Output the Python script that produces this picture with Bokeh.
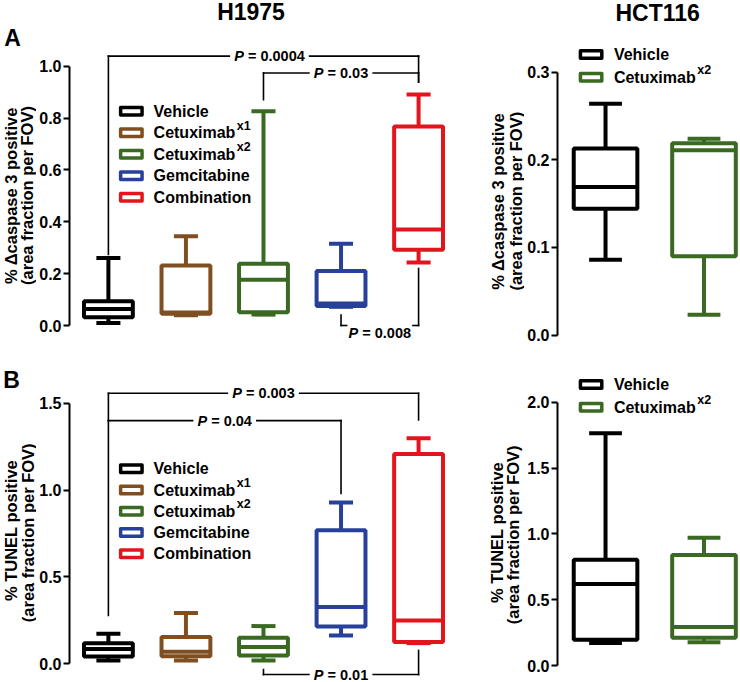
from bokeh.plotting import figure
from bokeh.models import Range1d, FixedTicker, PrintfTickFormatter, Label, ColumnDataSource
from bokeh.layouts import column, row
from bokeh.embed import file_html
from bokeh.resources import INLINE

FONT = "Liberation Sans"

# ---------------- data ----------------
h1975_labels = ["Vehicle", "Cetuximab", "Cetuximab", "Gemcitabine", "Combination"]
h1975_sups = ["", "x1", "x2", "", ""]
h1975_colors = ["#000000", "#7f4f22", "#3a6a22", "#27419b", "#e2141c"]
hct116_labels = ["Vehicle", "Cetuximab"]
hct116_sups = ["", "x2"]
hct116_colors = ["#000000", "#3a6a22"]

# cleaved caspase 3, H1975
casp_h_min = [0.010, 0.040, 0.042, 0.072, 0.243]
casp_h_q1 = [0.032, 0.045, 0.051, 0.075, 0.292]
casp_h_med = [0.064, 0.050, 0.176, 0.085, 0.370]
casp_h_q3 = [0.094, 0.231, 0.238, 0.210, 0.767]
casp_h_max = [0.260, 0.344, 0.826, 0.315, 0.891]
# cleaved caspase 3, HCT116
casp_c_min = [0.086, 0.023]
casp_c_q1 = [0.144, 0.090]
casp_c_med = [0.169, 0.211]
casp_c_q3 = [0.213, 0.219]
casp_c_max = [0.264, 0.224]
# TUNEL, H1975
tunel_h_min = [0.019, 0.019, 0.019, 0.163, 0.119]
tunel_h_q1 = [0.042, 0.044, 0.048, 0.215, 0.125]
tunel_h_med = [0.085, 0.070, 0.096, 0.327, 0.250]
tunel_h_q3 = [0.119, 0.154, 0.150, 0.769, 1.208]
tunel_h_max = [0.173, 0.292, 0.217, 0.929, 1.298]
# TUNEL, HCT116
tunel_c_min = [0.170, 0.177]
tunel_c_q1 = [0.195, 0.210]
tunel_c_med = [0.620, 0.292]
tunel_c_q3 = [0.803, 0.840]
tunel_c_max = [1.765, 0.970]

# significance brackets (groups numbered 1..5)
casp_br_left = [1, 3, 4]
casp_br_right = [5, 5, 5]
casp_br_y = [1.039, 0.974, 0.000]
casp_br_left_end = [0.274, 0.871, 0.040]
casp_br_right_end = [0.938, 0.938, 0.220]
casp_br_p = ["0.0004", "0.03", "0.008"]
tunel_br_left = [1, 1, 3]
tunel_br_right = [5, 4, 5]
tunel_br_y = [1.558, 1.400, -0.062]
tunel_br_left_end = [0.279, 1.400, -0.033]
tunel_br_right_end = [1.404, 0.980, 0.077]
tunel_br_p = ["0.003", "0.04", "0.01"]

casp_h_ticks = [0.0, 0.2, 0.4, 0.6, 0.8, 1.0]
casp_c_ticks = [0.0, 0.1, 0.2, 0.3]
tunel_h_ticks = [0.0, 0.5, 1.0, 1.5]
tunel_c_ticks = [0.0, 0.5, 1.0, 1.5, 2.0]

# ---------------- helpers ----------------
CW = {'P': .667, ' ': .278, '=': .584, '.': .278, 'C': .722, 'e': .556, 't': .333,
      'u': .611, 'x': .556, 'i': .278, 'm': .889, 'a': .556, 'b': .611}


def tw(s, fs):
    return sum(CW.get(c, 0.556) for c in s) * fs


def make_panel(fig_x, fig_y, fig_w, fig_h, axis_x, x1_px, step_px, y0_px, unit_px, ticks):
    xr = Range1d(1 + (axis_x - x1_px) / step_px, 1 + (fig_x + fig_w - x1_px) / step_px)
    yr = Range1d((y0_px - (fig_y + fig_h)) / unit_px, (y0_px - fig_y) / unit_px)
    p = figure(width=fig_w, height=fig_h, x_range=xr, y_range=yr, output_backend="svg",
               toolbar_location=None, tools="", x_axis_location=None,
               min_border_left=axis_x - fig_x, min_border_right=0,
               min_border_top=0, min_border_bottom=0)
    p.grid.visible = False
    p.outline_line_color = None
    ax = p.yaxis[0]
    ax.ticker = FixedTicker(ticks=ticks)
    ax.formatter = PrintfTickFormatter(format="%.1f")
    ax.bounds = (ticks[0], ticks[-1])
    ax.axis_line_width = 2
    ax.axis_line_color = "black"
    ax.major_tick_line_width = 2
    ax.major_tick_out = 6
    ax.major_tick_in = 0
    ax.minor_tick_out = 0
    ax.minor_tick_in = 0
    ax.major_label_text_font = FONT
    ax.major_label_text_font_size = "16px"
    ax.major_label_text_font_style = "bold"
    ax.major_label_text_color = "black"
    ax.major_label_standoff = 2
    fx = lambda px: 1 + (px - x1_px) / step_px
    fy = lambda py: (y0_px - py) / unit_px
    return p, fx, fy, step_px, unit_px


def make_text_strip(fig_x, fig_y, fig_w, fig_h):
    p = figure(width=fig_w, height=fig_h, x_range=Range1d(0, fig_w), y_range=Range1d(0, fig_h),
               output_backend="svg", toolbar_location=None, tools="",
               x_axis_location=None, y_axis_location=None, min_border=0,
               min_border_left=0, min_border_right=0, min_border_top=0, min_border_bottom=0)
    p.grid.visible = False
    p.outline_line_color = None
    fx = lambda px: px - fig_x
    fy = lambda py: fig_h - (py - fig_y)
    return p, fx, fy


LW = 4


def draw_boxes(p, mn, q1, md, q3, mx, colors, box_w, cap_w):
    xs = list(range(1, len(mn) + 1))
    src = ColumnDataSource(dict(
        x=xs, mn=mn, q1=q1, md=md, q3=q3, mx=mx, c=colors,
        bl=[x - box_w / 2 for x in xs], br=[x + box_w / 2 for x in xs],
        cl=[x - cap_w / 2 for x in xs], cr=[x + cap_w / 2 for x in xs]))
    kw = dict(line_color="c", line_width=LW, source=src)
    p.segment(x0="x", y0="q3", x1="x", y1="mx", **kw)
    p.segment(x0="x", y0="q1", x1="x", y1="mn", **kw)
    p.segment(x0="cl", y0="mx", x1="cr", y1="mx", **kw)
    p.segment(x0="cl", y0="mn", x1="cr", y1="mn", **kw)
    p.vbar(x="x", width=box_w, bottom="q1", top="q3", fill_color="white", **kw)
    p.segment(x0="bl", y0="md", x1="br", y1="md", **kw)


def draw_brackets(p, step_px, left, right, ys, lend, rend, pvals, dxs, dys):
    x0, y0, x1, y1 = [], [], [], []
    for i in range(len(left)):
        xl, xr, y = left[i], right[i], ys[i]
        xm = (xl + xr) / 2
        fs = 14.5
        s = "P = " + pvals[i]
        w = tw(s, fs)
        pad = 5 if dys[i] == 0 else 2
        ga = (w / 2 + pad - dxs[i]) / step_px
        gb = (w / 2 + pad + dxs[i]) / step_px
        x0 += [xl, xm + gb, xl, xr]
        x1 += [xm - ga, xr, xl, xr]
        y0 += [y, y, lend[i], rend[i]]
        y1 += [y, y, y, y]
        p.add_layout(Label(x=xm, y=y, x_offset=-w / 2 + dxs[i], y_offset=dys[i], text="P",
                           text_font=FONT, text_font_size="14.5px", text_font_style="bold italic",
                           text_align="left", text_baseline="middle", text_color="black"))
        p.add_layout(Label(x=xm, y=y, x_offset=-w / 2 + dxs[i] + tw("P ", fs), y_offset=dys[i],
                           text="= " + pvals[i], text_font=FONT, text_font_size="14.5px",
                           text_font_style="bold", text_align="left", text_baseline="middle",
                           text_color="black"))
    p.segment(x0=x0, y0=y0, x1=x1, y1=y1, line_color="black", line_width=1.6, line_cap="square")


def draw_legend(p, fx, fy, sx, sy, labels, sups, colors, sw_cx, txt_x, row_y0, row_dy):
    ys = [fy(row_y0 + i * row_dy) for i in range(len(labels))]
    p.rect(x=[fx(sw_cx)] * len(labels), y=ys, width=21.5 / sx, height=7.5 / sy,
           fill_color="white", line_color=colors, line_width=3.5, line_join="round")
    for i, lab in enumerate(labels):
        p.add_layout(Label(x=fx(txt_x), y=ys[i], text=lab, text_font=FONT,
                           text_font_size="16px", text_font_style="bold",
                           text_align="left", text_baseline="middle", text_color="black"))
        if sups[i]:
            p.add_layout(Label(x=fx(txt_x), y=ys[i], x_offset=tw(lab, 16) + 1.5, y_offset=7,
                               text=sups[i], text_font=FONT, text_font_size="12.5px",
                               text_font_style="bold", text_align="left",
                               text_baseline="middle", text_color="black"))


def text(p, x, y, s, size, angle=0):
    p.add_layout(Label(x=x, y=y, text=s, text_font=FONT, text_font_size=size,
                       text_font_style="bold", text_align="center", text_baseline="middle",
                       angle=angle, angle_units="deg", text_color="black"))


TOP_H, BOT_H = 344, 338

# ---------------- row A ----------------
tA1, gx, gy = make_text_strip(0, 0, 36, TOP_H)
text(tA1, gx(12), gy(37.5), "A", "23px")
text(tA1, gx(10.5), gy(195), "% \u0394caspase 3 positive", "16.5px", 90)
text(tA1, gx(26.5), gy(195), "(area fraction per FOV)", "16.5px", 90)

pA1, fx, fy, sx, sy = make_panel(36, 0, 412, TOP_H, 68, 107, 77.75, 325, 259.3, casp_h_ticks)
draw_brackets(pA1, sx, casp_br_left, casp_br_right, casp_br_y, casp_br_left_end,
              casp_br_right_end, casp_br_p, [6, 0, 0], [0, 0, -7])
draw_boxes(pA1, casp_h_min, casp_h_q1, casp_h_med, casp_h_q3, casp_h_max, h1975_colors, 0.63, 0.31)
draw_legend(pA1, fx, fy, sx, sy, h1975_labels, h1975_sups, h1975_colors, 130, 152.3, 110.7, 21.5)
text(pA1, fx(250), fy(11.5), "H1975", "23px")

tA2, gx, gy = make_text_strip(448, 0, 76, TOP_H)
text(tA2, gx(497.5), gy(200.7), "% \u0394caspase 3 positive", "16.5px", 90)
text(tA2, gx(515), gy(200.7), "(area fraction per FOV)", "16.5px", 90)

pA2, fx, fy, sx, sy = make_panel(524, 0, 216, TOP_H, 556, 604.3, 99, 334.5, 876, casp_c_ticks)
draw_boxes(pA2, casp_c_min, casp_c_q1, casp_c_med, casp_c_q3, casp_c_max, hct116_colors, 0.646, 0.333)
draw_legend(pA2, fx, fy, sx, sy, hct116_labels, hct116_sups, hct116_colors, 589.8, 612.7, 54, 22.7)
text(pA2, fx(656.7), fy(12.5), "HCT116", "23px")

# ---------------- row B ----------------
tB1, gx, gy = make_text_strip(0, TOP_H, 36, BOT_H)
text(tB1, gx(11), gy(379), "B", "23px")
text(tB1, gx(10.5), gy(530), "% TUNEL positive", "16.5px", 90)
text(tB1, gx(27), gy(530), "(area fraction  per FOV)", "16.5px", 90)

pB1, fx, fy, sx, sy = make_panel(36, TOP_H, 412, BOT_H, 68, 107, 77.75, 663.3, 173.7, tunel_h_ticks)
draw_brackets(pB1, sx, tunel_br_left, tunel_br_right, tunel_br_y, tunel_br_left_end,
              tunel_br_right_end, tunel_br_p, [0, 0, 0], [0, 0, 0])
draw_boxes(pB1, tunel_h_min, tunel_h_q1, tunel_h_med, tunel_h_q3, tunel_h_max, h1975_colors, 0.63, 0.31)
draw_legend(pB1, fx, fy, sx, sy, h1975_labels, h1975_sups, h1975_colors, 130, 152.3, 468.3, 21.25)

tB2, gx, gy = make_text_strip(448, TOP_H, 76, BOT_H)
text(tB2, gx(496), gy(532), "% TUNEL positive", "16.5px", 90)
text(tB2, gx(512.5), gy(532), "(area fraction  per FOV)", "16.5px", 90)

pB2, fx, fy, sx, sy = make_panel(524, TOP_H, 216, BOT_H, 556, 604.3, 99, 665, 131.65, tunel_c_ticks)
draw_boxes(pB2, tunel_c_min, tunel_c_q1, tunel_c_med, tunel_c_q3, tunel_c_max, hct116_colors, 0.646, 0.333)
draw_legend(pB2, fx, fy, sx, sy, hct116_labels, hct116_sups, hct116_colors, 589.8, 612.7, 384, 22.7)

layout = column(row(tA1, pA1, tA2, pA2), row(tB1, pB1, tB2, pB2))
open("out.html", "w").write(file_html(layout, INLINE))
